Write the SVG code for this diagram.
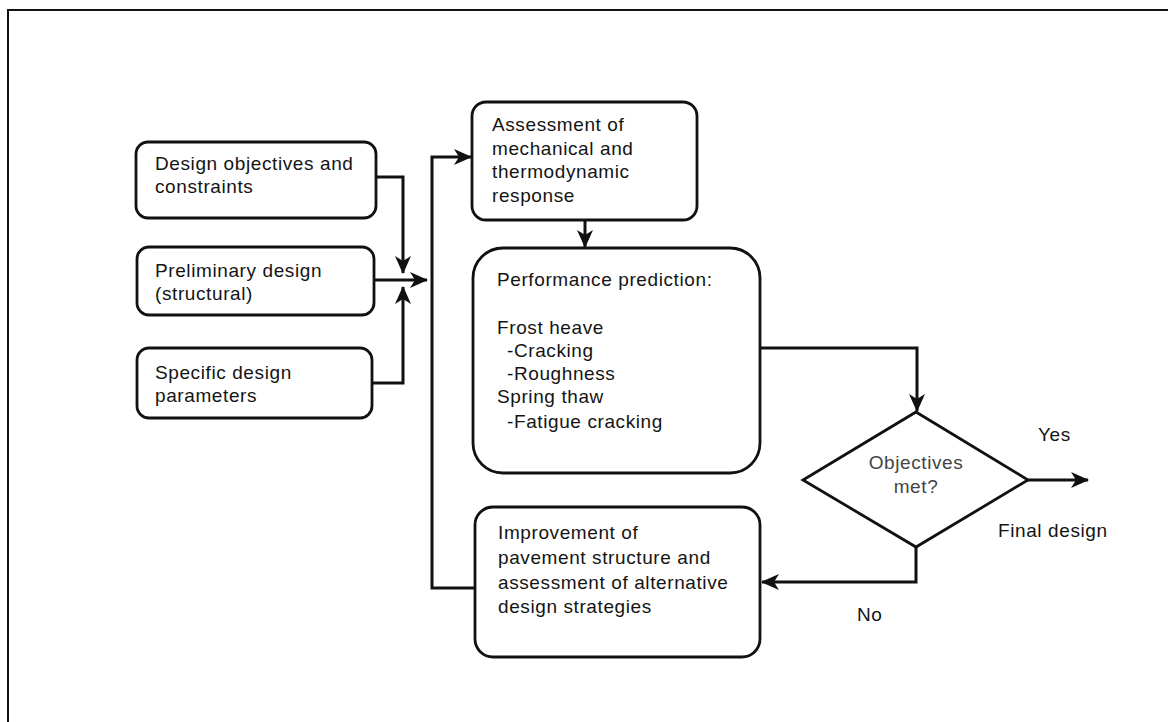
<svg xmlns="http://www.w3.org/2000/svg" width="1168" height="722" viewBox="0 0 1168 722">
<style>
.box{fill:#fff;stroke:#111;stroke-width:2.8}
.t{font-family:"Liberation Sans",Arial,sans-serif;font-size:19px;letter-spacing:0.6px;fill:#141414}
.tg{fill:#444}
.c{fill:none;stroke:#111;stroke-width:3}
</style>
<defs>
<marker id="ah" markerUnits="userSpaceOnUse" markerWidth="22" markerHeight="20" refX="17" refY="8" orient="auto">
<path d="M0,0 L18,8 L0,16 L5,8 z" fill="#111"/>
</marker>
</defs>
<rect width="1168" height="722" fill="#fff"/>
<path d="M8,722 V10 H1168" fill="none" stroke="#111" stroke-width="2"/>

<g id="connectors">
<path class="c" d="M376,177 H403 V273" marker-end="url(#ah)"/>
<path class="c" d="M372,383 H403 V287" marker-end="url(#ah)"/>
<path class="c" d="M374,280 H427" marker-end="url(#ah)"/>
<path class="c" d="M475,588 H432 V157 H471" marker-end="url(#ah)"/>
<path class="c" d="M585,220 V247" marker-end="url(#ah)"/>
<path class="c" d="M760,348 H917 V411" marker-end="url(#ah)"/>
<path class="c" d="M1028,480 H1088" marker-end="url(#ah)"/>
<path class="c" d="M916,547 V582 H762" marker-end="url(#ah)"/>
</g>

<g id="n-objectives">
<rect class="box" x="136" y="142" width="240" height="76" rx="12"/>
<text class="t" x="155" y="170">Design objectives and</text>
<text class="t" x="155" y="193">constraints</text>
</g>
<g id="n-preliminary">
<rect class="box" x="137" y="247" width="237" height="68" rx="12"/>
<text class="t" x="155" y="277">Preliminary design</text>
<text class="t" x="155" y="300">(structural)</text>
</g>
<g id="n-specific">
<rect class="box" x="137" y="348" width="235" height="70" rx="12"/>
<text class="t" x="155" y="379">Specific design</text>
<text class="t" x="155" y="402">parameters</text>
</g>
<g id="n-assessment">
<rect class="box" x="472" y="102" width="225" height="118" rx="14"/>
<text class="t" x="492" y="131">Assessment of</text>
<text class="t" x="492" y="155">mechanical and</text>
<text class="t" x="492" y="178">thermodynamic</text>
<text class="t" x="492" y="202">response</text>
</g>
<g id="n-performance">
<rect class="box" x="473" y="248" width="287" height="225" rx="30"/>
<text class="t" x="497" y="286">Performance prediction:</text>
<text class="t" x="497" y="334">Frost heave</text>
<text class="t" x="507" y="357">-Cracking</text>
<text class="t" x="507" y="380">-Roughness</text>
<text class="t" x="497" y="403">Spring thaw</text>
<text class="t" x="507" y="428">-Fatigue cracking</text>
</g>
<g id="n-decision">
<polygon class="box" points="916,412 1028,480 916,547 803,480"/>
<text class="t tg" x="916" y="469" text-anchor="middle">Objectives</text>
<text class="t tg" x="916" y="493" text-anchor="middle">met?</text>
</g>
<g id="n-improvement">
<rect class="box" x="475" y="507" width="285" height="150" rx="18"/>
<text class="t" x="498" y="539">Improvement of</text>
<text class="t" x="498" y="564">pavement structure and</text>
<text class="t" x="498" y="589">assessment of alternative</text>
<text class="t" x="498" y="613">design strategies</text>
</g>
<g id="labels">
<text class="t" x="1038" y="441">Yes</text>
<text class="t" x="998" y="537">Final design</text>
<text class="t" x="857" y="621">No</text>
</g>
</svg>
